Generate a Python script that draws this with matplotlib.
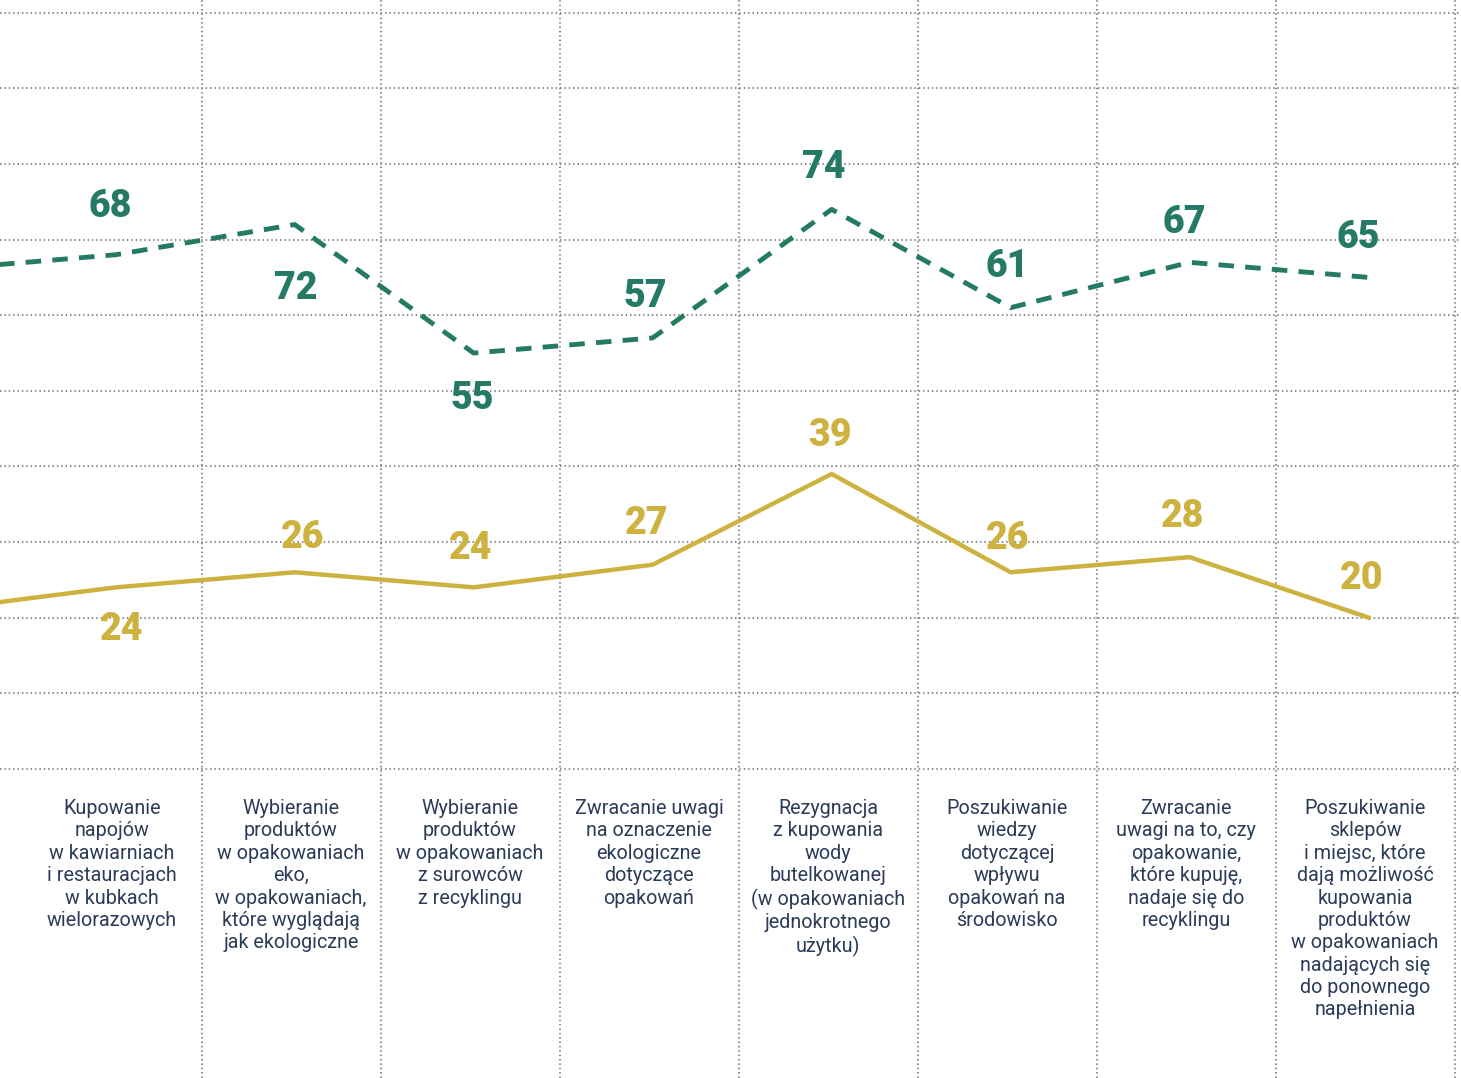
import matplotlib
matplotlib.use('Agg')
import matplotlib.pyplot as plt

#--- dane
categories = [
    'Kupowanie\nnapojów\nw kawiarniach\ni restauracjach\nw kubkach\nwielorazowych',
    'Wybieranie\nproduktów\nw opakowaniach\neko,\nw opakowaniach,\nktóre wyglądają\njak ekologiczne',
    'Wybieranie\nproduktów\nw opakowaniach\nz surowców\nz recyklingu',
    'Zwracanie uwagi\nna oznaczenie\nekologiczne\ndotyczące\nopakowań',
    'Rezygnacja\nz kupowania\nwody\nbutelkowanej\n(w opakowaniach\njednokrotnego\nużytku)',
    'Poszukiwanie\nwiedzy\ndotyczącej\nwpływu\nopakowań na\nśrodowisko',
    'Zwracanie\nuwagi na to, czy\nopakowanie,\nktóre kupuję,\nnadaje się do\nrecyklingu',
    'Poszukiwanie\nsklepów\ni miejsc, które\ndają możliwość\nkupowania\nproduktów\nw opakowaniach\nnadających się\ndo ponownego\nnapełnienia',
]
green_values = [68, 72, 55, 57, 74, 61, 67, 65]
yellow_values = [24, 26, 24, 27, 39, 26, 28, 20]
# poprzednia kategoria (poza kadrem, po lewej)
green_prev = 66
yellow_prev = 21

GREEN = '#257a66'
YELLOW = '#cdb23f'
TEXT = '#2b3b58'
GRID = '#8c8c8c'

# przesunięcia etykiet (w punktach), + nad punktem, - pod punktem
green_offsets = [(-4, 35), (1, -46), (-1, -33), (-5, 30), (-6, 30), (-2.5, 30), (-4, 29), (-7.5, 29)]
yellow_offsets = [(4, -30), (5.4, 25), (-2, 28), (-4, 30), (-1, 27.5), (-2, 24), (-5.4, 29), (-4.7, 28)]

fig = plt.figure(figsize=(14.61, 10.78), dpi=100)
ax = fig.add_axes([0, 0, 1, 1])
ax.set_xlim(-0.626, 7.536)
ax.set_ylim(-40.9, 101.7)
ax.axis('off')

#--- siatka
for v in range(0, 101, 10):
    ax.axhline(v, color=GRID, lw=1.5, ls=(0, (0.7, 1.4)), zorder=1)
for i in range(len(categories)):
    ax.axvline(i + 0.5, color=GRID, lw=1.5, ls=(0, (0.7, 1.4)), zorder=1)

x = [i + 0.02 for i in range(len(categories))]
xs = [-0.98] + x

ax.plot(xs, [green_prev] + green_values, color=GREEN, lw=3.5,
        ls=(0, (3.2, 2.3)), zorder=3, solid_joinstyle='miter')
ax.plot(xs, [yellow_prev] + yellow_values, color=YELLOW, lw=3.2,
        zorder=3, solid_joinstyle='miter')

num_font = dict(family=['Roboto', 'DejaVu Sans'], fontweight='heavy', fontsize=27)
for i, v in enumerate(green_values):
    ax.annotate(str(v), (x[i], v), xytext=green_offsets[i], textcoords='offset points',
                ha='center', va='center', color=GREEN, **num_font)
for i, v in enumerate(yellow_values):
    ax.annotate(str(v), (x[i], v), xytext=yellow_offsets[i], textcoords='offset points',
                ha='center', va='center', color=YELLOW, **num_font)

for i, label in enumerate(categories):
    ax.text(i, -4.0, label, ha='center', va='top', color=TEXT, fontsize=14.2,
            family=['Roboto', 'DejaVu Sans'], linespacing=1.225)

fig.savefig('out.png', dpi=100, facecolor='white')
